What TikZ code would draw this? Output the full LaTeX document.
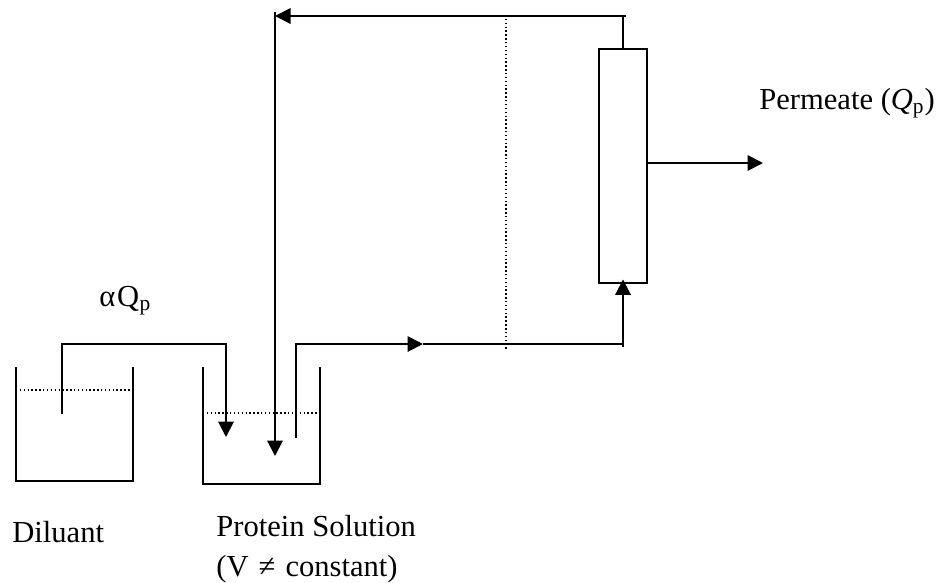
\documentclass[tikz,border=0pt]{standalone}
\usepackage{fontspec}
\usepackage{amsmath}
\setmainfont{Liberation Serif}
\usetikzlibrary{arrows.meta}

\begin{document}
\begin{tikzpicture}[
  x=0.02cm, y=-0.02cm,
  pipe/.style={line width=1.1pt},
  level/.style={line width=0.8pt, dash pattern=on 0.8pt off 1.4pt},
  lbl/.style={inner sep=0pt, anchor=base west, align=left,
              font=\fontsize{17.4}{22.7}\selectfont},
  >={Triangle[length=0.31cm, width=0.31cm]}
]
\useasboundingbox (0,0) rectangle (939,582);
% pipe ends and corners
\coordinate (dilin)   at (62,414);
\coordinate (dilup)   at (62,344);
\coordinate (dilover) at (226,344);
\coordinate (dilout)  at (226,437);
\coordinate (recin)   at (626,16);
\coordinate (rectip)  at (275,16);
\coordinate (rectop)  at (275,12);
\coordinate (recout)  at (275,456);
\coordinate (feedin)  at (296,438);
\coordinate (feedup)  at (296,344);
\coordinate (feedmid) at (423,344);
\coordinate (feedend) at (623,344);
\coordinate (feedlow) at (623,347);
\coordinate (permout) at (763,163);
\coordinate (sepup)   at (506,15);
\coordinate (seplow)  at (506,351);
% tanks
\coordinate (dilnw) at (16,367);
\coordinate (dilsw) at (16,481);
\coordinate (dilse) at (133,481);
\coordinate (dilne) at (133,367);
\coordinate (protnw) at (203,367);
\coordinate (protsw) at (203,484);
\coordinate (protse) at (320,484);
\coordinate (protne) at (320,367);
\draw[pipe] (dilnw) -- (dilsw) -- (dilse) -- (dilne);
\draw[pipe] (protnw) -- (protsw) -- (protse) -- (protne);
\draw[level] (16,390) -- (133,390);
\draw[level] (203,413) -- (320,413);
% membrane
\node[draw, pipe, minimum width=0.96cm, minimum height=4.68cm, inner sep=0pt]
  (mem) at (623,166) {};
% pipes
\draw[pipe,->] (dilin) -- (dilup) -- (dilover) -- (dilout);
\draw[pipe,->] (recin) -- (rectip);
\draw[pipe,->] (rectop) -- (recout);
\draw[pipe,->] (feedin) -- (feedup) -- (feedmid);
\draw[pipe] (feedmid) -- (feedend);
\draw[pipe,->,shorten >=-0.09cm] (feedlow) -- (mem.south);
\draw[pipe] (623,16) -- (mem.north);
\draw[pipe,->] (mem.east |- permout) -- (permout);
\draw[level] (sepup) -- (seplow);
% labels
\node[lbl] (perm) at (759,109) {Permeate (\textit{Q}$_{\text{p}}$)};
\node[lbl] (flow) at (99,306) {α\kern1pt Q\kern0.3pt$_{\text{p}}$};
\node[lbl] (dil)  at (12,542) {Diluant};
\node[lbl] (prot) at (216,576) {Protein Solution\\(V \kern1.4pt≠\kern1.4pt\ constant)};
\end{tikzpicture}
\end{document}
